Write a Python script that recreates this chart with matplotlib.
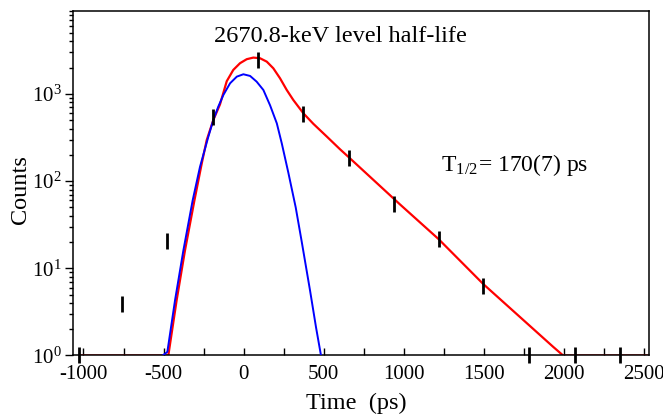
import matplotlib
matplotlib.use('Agg')
import matplotlib.pyplot as plt
from matplotlib.ticker import MultipleLocator, LogLocator, NullFormatter

plt.rcParams['font.family'] = ['Liberation Serif', 'DejaVu Serif']
plt.rcParams['mathtext.fontset'] = 'stix'
plt.rcParams['axes.unicode_minus'] = False

# measured spectrum (time bins, counts)
data_t = [-1025, -761, -480, -193, 89, 370, 658, 940, 1219, 1498, 1784, 2072, 2353]
data_counts = [1, 3.9, 20.6, 550, 2460, 585, 186, 55, 21.7, 6.2, 1, 1, 1]

# total fit (prompt convolved with decay)
fit_t = [-1022, -470, -418, -366, -307, -261, -230, -189, -147, -105, -64, -22, 20,
         61, 103, 145, 186, 228, 270, 311, 374, 436, 520, 603, 655, 978, 1218,
         1498, 1934, 1997, 2520]
fit_counts = [1, 1, 4.3, 16, 60, 160, 296, 502, 760, 1400, 1888, 2254, 2506,
              2614, 2570, 2350, 1972, 1514, 1111, 853, 600, 455, 325, 232, 190, 54,
              21.7, 6.6, 1.26, 1, 1]

# prompt response
prompt_t = [-505, -476, -428, -376, -318, -272, -220, -189, -158, -126, -84, -42, -1,
            41, 82, 124, 166, 208, 239, 280, 326, 364, 416, 453, 484]
prompt_counts = [1, 1.1, 4.3, 16, 60, 146, 323, 502, 714, 974, 1327, 1581, 1683,
                 1610, 1384, 1111, 740, 460, 271, 125, 50, 20, 5.5, 2.1, 1]

fig = plt.figure(figsize=(6.63, 4.15), dpi=100)
ax = fig.add_axes([0.110, 0.1434, 0.869, 0.8306])

ax.plot(fit_t, fit_counts, color='#ff0000', lw=1.6, zorder=2)
ax.plot(prompt_t, prompt_counts, color='#0000ff', lw=1.4, zorder=3)
ax.plot(data_t, data_counts, ls='none', marker='|', ms=12, mew=2, color='black',
        zorder=4, clip_on=False)

ax.set_yscale('log')
ax.set_xlim(-1066, 2534)
ax.set_ylim(1, 9000)

ax.xaxis.set_major_locator(MultipleLocator(500))
ax.xaxis.set_minor_locator(MultipleLocator(250))
ax.yaxis.set_major_locator(LogLocator(base=10, numticks=10))
ax.yaxis.set_minor_locator(LogLocator(base=10, subs=range(2, 10), numticks=10))
ax.yaxis.set_minor_formatter(NullFormatter())

ax.tick_params(axis='x', which='both', direction='in', length=5, width=1,
               labelsize=15, pad=7)
ax.tick_params(axis='y', which='major', direction='out', length=6, width=1,
               labelsize=15, pad=2)
ax.tick_params(axis='y', which='minor', direction='out', length=3, width=1)

for sp in ax.spines.values():
    sp.set_linewidth(1.1)

ax.set_xlabel('Time  (ps)', fontsize=17.5)
ax.xaxis.set_label_coords(0.491, -0.155)
ax.xaxis.label.set_verticalalignment('baseline')
ax.set_ylabel('Counts', fontsize=17.5)
ax.yaxis.set_label_coords(-0.072, 0.48)

ax.text(0.4635, 0.924, '2670.8-keV level half-life', transform=ax.transAxes,
        ha='center', va='center', fontsize=17.5)
ax.text(0.639, 0.5525, r'T$_{\mathdefault{1/2}}$= 170(7) ps', transform=ax.transAxes,
        ha='left', va='center', fontsize=17)

fig.savefig('out.png', dpi=100)
